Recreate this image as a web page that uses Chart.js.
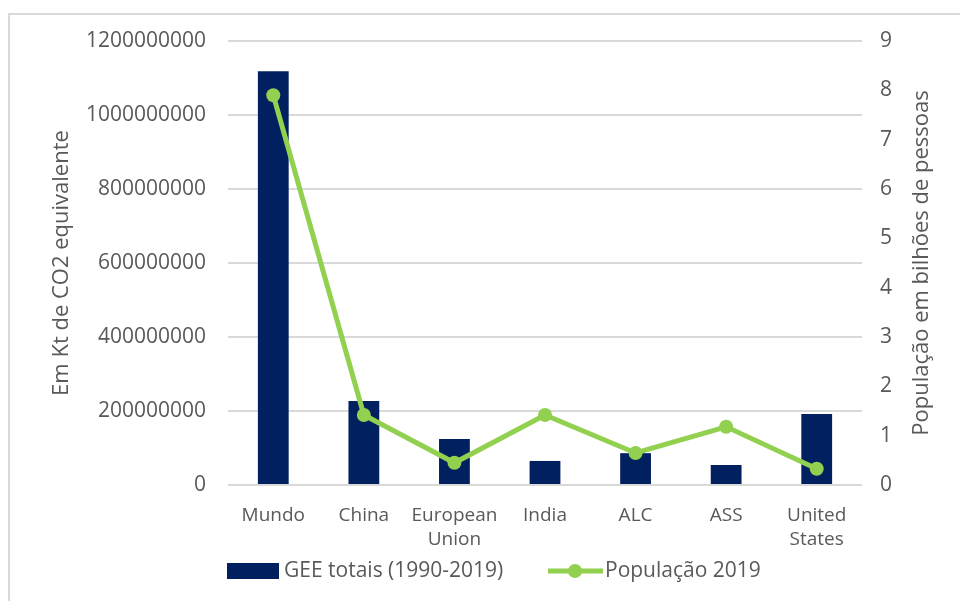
<!DOCTYPE html>
<html>
<head>
<meta charset="utf-8">
<script src="https://cdn.jsdelivr.net/npm/chart.js@4.4.1/dist/chart.umd.min.js"></script>
<style>
	html, body { margin: 0; padding: 0; background: #fff; }
	#wrap { position: relative; width: 960px; height: 601px; overflow: hidden; }
	#frame { position: absolute; left: 8px; top: 13px; width: 980px; height: 620px; border: 2px solid #d9d9d9; box-sizing: border-box; }
	#c { position: absolute; left: 0; top: 0; }
</style>
</head>
<body>
<div id="wrap">
	<div id="frame"></div>
	<canvas id="c" width="960" height="601"></canvas>
</div>
<script>
// categorias e series
const categorias = ['Mundo', 'China', ['European', 'Union'], 'India', 'ALC', 'ASS', ['United', 'States']];
const geeTotais = [1118000000, 227000000, 124000000, 65000000, 86000000, 54000000, 192000000];
const populacao2019 = [7.9, 1.42, 0.45, 1.42, 0.65, 1.18, 0.33];

const corBarra = '#002060';
const corLinha = '#92D050';
const corTexto = '#595959';
const fonte = "'Open Sans', sans-serif";

// legenda desenhada a mao (barra + linha com marcador) e titulo do eixo direito
const legendaPlugin = {
	id: 'legendaManual',
	afterDraw(chart) {
		const ctx = chart.ctx;
		const y = 571;
		ctx.save();
		ctx.fillStyle = corBarra;
		ctx.fillRect(227, y - 8, 52, 16);
		ctx.font = '21px ' + fonte;
		ctx.fillStyle = corTexto;
		ctx.textBaseline = 'middle';
		ctx.fillText('GEE totais (1990-2019)', 284, y);

		ctx.strokeStyle = corLinha;
		ctx.lineWidth = 5;
		ctx.beginPath();
		ctx.moveTo(548, y);
		ctx.lineTo(603, y);
		ctx.stroke();
		ctx.fillStyle = corLinha;
		ctx.beginPath();
		ctx.arc(575, y, 7, 0, Math.PI * 2);
		ctx.fill();
		ctx.fillStyle = corTexto;
		ctx.fillText('População 2019', 605, y);

		// titulo do eixo direito, lido de baixo para cima
		ctx.translate(922, 263);
		ctx.rotate(-Math.PI / 2);
		ctx.textAlign = 'center';
		ctx.font = '22px ' + fonte;
		ctx.fillText('População em bilhões de pessoas', 0, 0);
		ctx.restore();
	}
};

const ctx = document.getElementById('c').getContext('2d');
new Chart(ctx, {
	data: {
		labels: categorias,
		datasets: [
			{
				type: 'line',
				label: 'População 2019',
				data: populacao2019,
				yAxisID: 'y2',
				borderColor: corLinha,
				backgroundColor: corLinha,
				borderWidth: 5,
				pointRadius: 7,
				pointBorderWidth: 0,
				tension: 0,
				order: 0
			},
			{
				type: 'bar',
				label: 'GEE totais (1990-2019)',
				data: geeTotais,
				yAxisID: 'y',
				backgroundColor: corBarra,
				categoryPercentage: 0.34,
				barPercentage: 1,
				order: 1
			}
		]
	},
	options: {
		responsive: false,
		animation: false,
		layout: { padding: { top: 41, left: 0, right: 0, bottom: 0 } },
		plugins: {
			legend: { display: false },
			tooltip: { enabled: false }
		},
		scales: {
			x: {
				grid: { display: false },
				border: { display: false },
				ticks: {
					color: corTexto,
					font: { family: fonte, size: 19, lineHeight: 1.3 },
					padding: 10,
					maxRotation: 0
				},
				afterFit: (scale) => { scale.height = 116; }
			},
			y: {
				position: 'left',
				min: 0,
				max: 1200000000,
				ticks: {
					stepSize: 200000000,
					color: corTexto,
					font: { family: fonte, size: 21 },
					padding: 22,
					callback: (v) => String(v)
				},
				grid: { color: '#d9d9d9', lineWidth: 2, drawTicks: false },
				border: { display: false },
				title: {
					display: true,
					text: 'Em Kt de CO2 equivalente',
					color: corTexto,
					font: { family: fonte, size: 22 },
					padding: { top: 49, bottom: 0 }
				},
				afterFit: (scale) => { scale.width = 228; }
			},
			y2: {
				position: 'right',
				min: 0,
				max: 9,
				ticks: {
					stepSize: 1,
					color: corTexto,
					font: { family: fonte, size: 21 },
					padding: 18
				},
				grid: { display: false, drawTicks: false },
				border: { display: false },
				afterFit: (scale) => { scale.width = 98; }
			}
		}
	},
	plugins: [legendaPlugin]
});
</script>
</body>
</html>
